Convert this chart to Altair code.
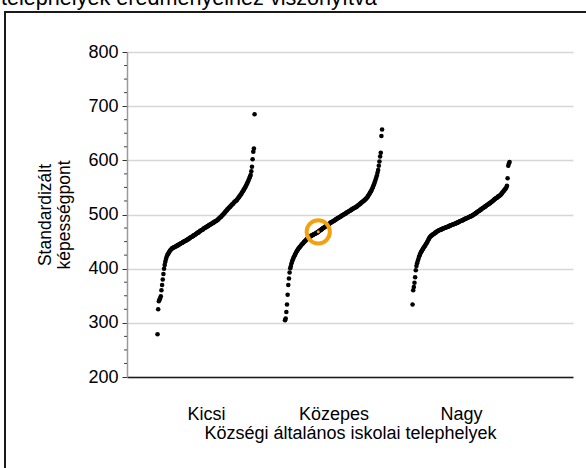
import altair as alt
import pandas as pd

groups = ["Kicsi", "Közepes", "Nagy"]

kicsi = [
    279, 325, 340, 343, 345, 349, 360, 370, 380, 390,
    400, 407, 413, 418, 422, 425, 427, 429, 431, 433,
    434.5, 436, 437, 438, 438.5, 439, 440, 440.5, 441, 442,
    442.5, 443, 444, 444.5, 445, 446, 447, 447.5, 448, 449,
    449.5, 450, 451, 451.5, 452, 453, 454, 454.5, 455, 456,
    457, 458, 458.5, 459, 460, 461, 461.5, 462, 463, 464,
    465, 466, 466.5, 467, 468, 469, 470, 471, 471.5, 472,
    473, 474, 475, 475.5, 476, 477, 478, 478.5, 479, 480,
    481, 481.5, 482, 483, 484, 484.5, 485, 486, 487, 487.5,
    488, 489, 490, 491, 492, 493.5, 494.5, 495.5, 496.5, 498,
    499, 500.5, 502, 503, 505, 506, 507.5, 509, 510, 511.5,
    513, 514, 515, 516.5, 518, 519, 520, 521.5, 523, 524,
    525, 526, 527, 529, 530.5, 532, 534, 535.5, 537, 539,
    541, 543, 545, 547, 549, 551, 553.5, 556, 558.5, 561,
    564, 567, 570, 573, 580, 588, 602, 616, 622, 685,
]

kozepes = [
    305, 308, 320, 334, 352, 370, 382, 393, 401, 405,
    410, 414, 417, 420, 422.5, 425, 427.5, 430, 432, 434,
    436, 437.5, 439, 440.5, 442, 443.5, 445, 446, 447.5, 449,
    450, 451.5, 452.5, 454, 455, 456, 457, 458, 459, 460,
    460.5, 461, 462, 462.5, 463, 464, 464.5, 465, 466, 466.5,
    467, 468, 469, 470, 471, 471.5, 472.5, 473.5, 474.5, 475,
    476, 477, 478, 479, 479.5, 480.5, 481.5, 482, 483, 484,
    485, 485.5, 486, 487, 487.5, 488.5, 489, 490, 491, 491.5,
    492.5, 493, 494, 494.5, 495.5, 496, 497, 497.5, 498.5, 499,
    500, 500.5, 501.5, 502, 503, 503.5, 504.5, 505, 506, 506.5,
    507.5, 508, 509, 509.5, 510.5, 511, 512, 512.5, 513, 514,
    514.5, 515.5, 516.5, 517.5, 518.5, 519.5, 520.5, 521.5, 522.5, 523.5,
    524.5, 525.5, 526.5, 527.5, 528.5, 530, 531.5, 533, 535, 537,
    539, 541, 543, 545.5, 548, 551, 554, 557, 560.5, 564,
    568, 572, 577, 582, 590, 598, 607, 614, 645, 657,
]

nagy = [
    334, 360, 366, 374, 384, 397, 405, 410, 414, 418,
    422, 425, 428, 430.5, 432.5, 434.5, 436.5, 438.5, 440.5, 442,
    444, 446, 448, 450, 452.5, 455, 457, 459, 460, 461,
    462, 463, 463.5, 464.5, 465.5, 466.5, 467, 468, 469, 469.5,
    470.5, 471, 471.5, 472, 472.5, 473, 473.5, 474, 474.5, 475,
    475.5, 476, 476.5, 477, 477.5, 478, 478.5, 479, 479.5, 480,
    480.5, 481, 481.5, 482, 482.5, 483, 483.5, 484, 484.5, 485,
    485.5, 486, 487, 487.5, 488, 488.5, 489, 489.5, 490, 491,
    491.5, 492, 492.5, 493, 493.5, 494, 495, 495.5, 496, 496.5,
    497, 497.5, 498, 499, 500, 500.5, 501.5, 502.5, 503, 504,
    505, 506, 506.5, 507.5, 508.5, 509, 510, 511, 512, 512.5,
    513.5, 514.5, 515, 516, 517, 518, 518.5, 519.5, 520.5, 521,
    522, 523, 524, 525, 526, 527, 528, 529, 530, 530.5,
    531.5, 532.5, 533.5, 534, 535, 536, 537.5, 539, 540.5, 542,
    543.5, 545, 546.5, 548, 550, 553, 567, 590, 594, 597,
]

y_ticks = [200, 300, 400, 500, 600, 700, 800]
minor_ticks = [v for v in range(225, 800, 25) if v % 100 != 0]

highlight_group = "Közepes"
highlight_row = 52  # row number (1-based) of the highlighted school in its group

title_text = "telephelyek eredményeihez viszonyítva"
x_title = "Községi általános iskolai telephelyek"
y_title = ["Standardizált", "képességpont"]

FONT = "Liberation Sans"
GROUP_WIDTH = 0.761
ORANGE = "#F4A10F"

rows = []
for gi, (g, vals) in enumerate(zip(groups, [kicsi, kozepes, nagy])):
    for v in vals:
        rows.append({"group": g, "gidx": gi + 1, "value": v})
df = pd.DataFrame(rows)

x_scale = alt.Scale(domain=[0.38, 3.878], nice=False, zero=False)
y_scale = alt.Scale(domain=[200, 800], nice=False, zero=False)

label_expr = "[" + ",".join("'" + g + "'" for g in groups) + "][datum.value - 1]"

x_axis = alt.Axis(
    values=[1, 2, 3], labelExpr=label_expr, grid=False, ticks=False, tickSize=0,
    domainColor="#1a1a1a", domainWidth=1.5, labelFontSize=18, labelColor="black",
    labelFont=FONT, labelPadding=28, labelFlush=False, title=x_title,
    titleFontSize=18, titleFontWeight="normal", titleFont=FONT, titleColor="black",
    titleX=223, titleY=47, titleBaseline="top", titleAlign="center",
)
y_axis = alt.Axis(
    values=y_ticks, grid=True, gridColor="#d6d6d6", gridWidth=1.5,
    domainColor="#9a9a9a", domainWidth=1.5, tickColor="#333333", tickSize=5,
    tickWidth=1, labelFontSize=18, labelColor="black", labelFont=FONT,
    labelPadding=4, labelFlush=False, title=y_title, titleFontSize=17.5,
    titleFontWeight="normal", titleFont=FONT, titleColor="black",
    titleX=-82, titleY=162.5, titleAngle=270, titleAlign="center",
    titleBaseline="middle", titleLineHeight=19,
)

x_enc = alt.X("xpos:Q", scale=x_scale, axis=x_axis)
y_enc = alt.Y("value:Q", scale=y_scale, axis=y_axis)

base = alt.Chart(df).transform_window(
    rn="row_number()", groupby=["group"], sort=[alt.SortField("value")]
).transform_joinaggregate(
    n="count()", groupby=["group"]
).transform_calculate(
    xpos=f"datum.gidx + ((datum.rn - 1) / (datum.n - 1) - 0.5) * {GROUP_WIDTH}"
)

points = base.mark_circle(size=21, color="black", opacity=1).encode(x=x_enc, y=y_enc)

hl = base.transform_filter(
    (alt.datum.group == highlight_group) & (alt.datum.rn == highlight_row)
)
ring = hl.mark_point(shape="circle", size=540, strokeWidth=4, color=ORANGE,
                     filled=False, opacity=1).encode(x=x_enc, y=y_enc)
dot = hl.mark_circle(size=9, color=ORANGE, opacity=1).encode(x=x_enc, y=y_enc)

minor = alt.Chart(pd.DataFrame({"value": minor_ticks})).mark_rule(
    color="#444444", strokeWidth=1
).encode(
    y=y_enc, x=alt.value(-3), x2=alt.value(0),
)

one = pd.DataFrame({"k": [0]})
frame = alt.Chart(one).mark_rect(
    fill="white", fillOpacity=0, stroke="#1a1a1a", strokeWidth=2
).encode(
    x=alt.value(-122), x2=alt.value(520), y=alt.value(-40), y2=alt.value(460)
)
top_text = alt.Chart(one).mark_text(
    align="left", baseline="alphabetic", fontSize=21.6, font=FONT, color="black"
).encode(
    x=alt.value(-126), y=alt.value(-47), text=alt.value(title_text)
)

chart = alt.layer(points, frame, top_text, minor, ring, dot).properties(
    width=446, height=325,
    autosize=alt.AutoSizeParams(type="none"),
    padding={"left": 127, "top": 52, "right": 13, "bottom": 91},
    background="white",
).configure(font=FONT).configure_view(stroke=None)

chart.save("out.html", embed_options={"renderer": "svg", "actions": False,
                                      "defaultStyle": "body{margin:0}"})
